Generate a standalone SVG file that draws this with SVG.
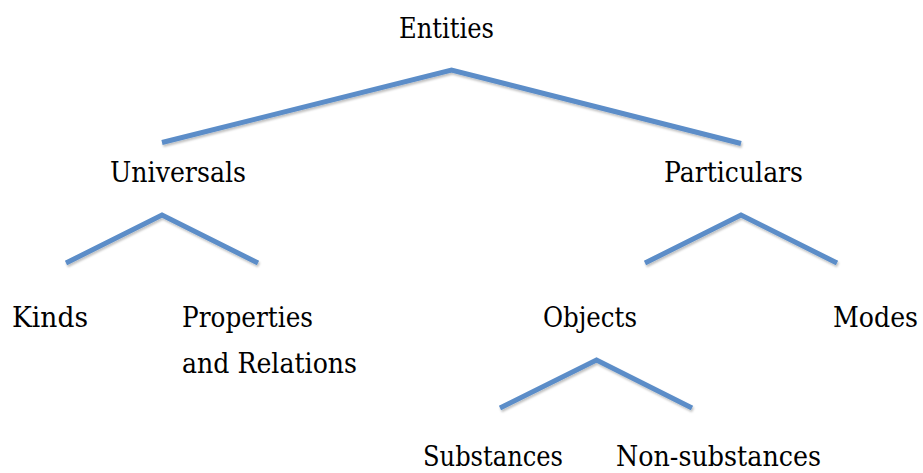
<svg xmlns="http://www.w3.org/2000/svg" width="923" height="473" viewBox="0 0 923 473">
<defs>
<filter id="sh" x="-10%" y="-10%" width="120%" height="140%">
<feDropShadow dx="1" dy="2" stdDeviation="1.2" flood-color="#000" flood-opacity="0.25"/>
</filter>
<style>
text{font-family:'DejaVu Serif','Liberation Serif',serif;font-size:27px;fill:#000;}
.edge{fill:none;stroke:#5b8dc8;stroke-width:5;stroke-linejoin:miter;stroke-linecap:butt;filter:url(#sh);}
</style>
</defs>
<rect width="923" height="473" fill="#fff"/>
<g id="connectors">
<polyline class="edge" points="162,142.5 451.5,70 741,143.5"/>
<polyline class="edge" points="66,263 162,215 258,263"/>
<polyline class="edge" points="645,263 741,215 837,263"/>
<polyline class="edge" points="500,408 596.5,360 692,408"/>
</g>
<g id="entities"><text x="399" y="38" textLength="95" lengthAdjust="spacingAndGlyphs">Entities</text></g>
<g id="universals"><text x="110" y="182" textLength="136" lengthAdjust="spacingAndGlyphs">Universals</text></g>
<g id="particulars"><text x="664" y="182" textLength="139" lengthAdjust="spacingAndGlyphs">Particulars</text></g>
<g id="kinds"><text x="12" y="327" textLength="76" lengthAdjust="spacingAndGlyphs">Kinds</text></g>
<g id="properties"><text x="182" y="327" textLength="131" lengthAdjust="spacingAndGlyphs">Properties</text><text x="182" y="373" textLength="175" lengthAdjust="spacingAndGlyphs">and Relations</text></g>
<g id="objects"><text x="543" y="327" textLength="94" lengthAdjust="spacingAndGlyphs">Objects</text></g>
<g id="modes"><text x="833" y="327" textLength="85" lengthAdjust="spacingAndGlyphs">Modes</text></g>
<g id="substances"><text x="423" y="466" textLength="140" lengthAdjust="spacingAndGlyphs">Substances</text></g>
<g id="nonsubstances"><text x="616" y="466" textLength="205" lengthAdjust="spacingAndGlyphs">Non-substances</text></g>
</svg>
